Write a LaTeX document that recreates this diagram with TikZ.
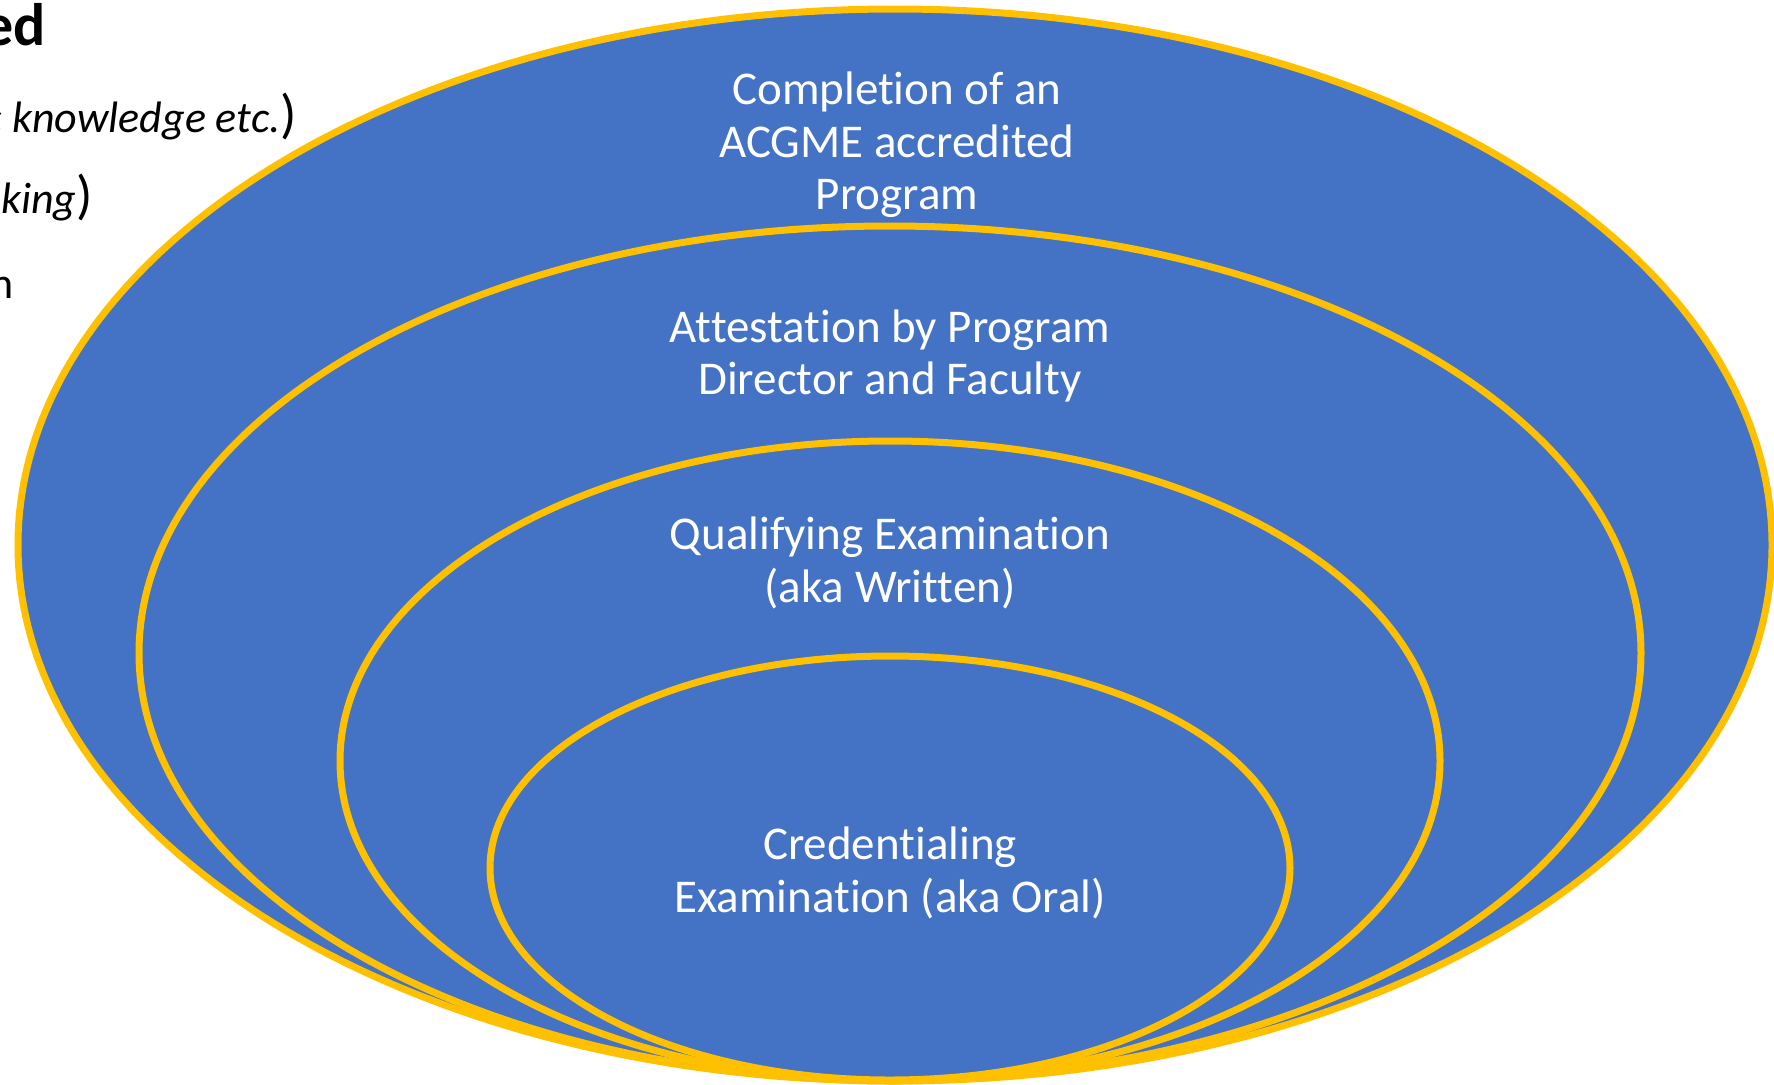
\documentclass[tikz,border=0pt]{standalone}
\usepackage{fontspec}
\setmainfont{Carlito}[Ligatures={NoCommon,NoContextual}, Contextuals=NoAlternate]
\definecolor{ovalblue}{HTML}{4472C4}
\definecolor{ovalgold}{HTML}{FFC000}
\tikzset{
  oval/.style={fill=ovalblue, draw=ovalgold, line width=7pt},
  ovaltext/.style={text=white, align=center, font=\fontsize{47}{52.6}\selectfont},
  sidetext/.style={anchor=base east, inner sep=0pt, font=\fontsize{44}{58}\selectfont}
}
\newcommand{\bigparen}{\fontsize{54}{58}\selectfont\upshape)}
\begin{document}
\begin{tikzpicture}[x=1pt, y=-1pt]
        % Page frame
        \useasboundingbox (0,0) rectangle (1774,1084);
        \clip (0,0) rectangle (1774,1084);

        % Cut-off slide text on the left
        \node[sidetext, font=\fontsize{60}{64}\selectfont\bfseries] (title) at (46,45) {ed};
        \node[sidetext] (line1) at (297,132) {\itshape c knowledge etc.\bigparen};
        \node[sidetext] (line2) at (93,213) {\itshape aking\bigparen};
        \node[sidetext] (line3) at (14,298) {n};

        % Nested ovals, outer first
        \draw[oval] (895,545) ellipse [x radius=877pt, y radius=536pt]; % Program oval
        \draw[oval] (890,653) ellipse [x radius=751pt, y radius=427pt]; % Attestation oval
        \draw[oval] (890,761) ellipse [x radius=550pt, y radius=320pt]; % Written oval
        \draw[oval] (890,868) ellipse [x radius=400pt, y radius=212pt]; % Oral oval

        % Oval labels
        \node[ovaltext] (program) at (897,145) {Completion of an\\ACGME accredited\\Program};
        \node[ovaltext] (attest) at (890,356) {Attestation by Program\\Director and Faculty};
        \node[ovaltext] (written) at (890,563) {Qualifying Examination\\(aka Written)};
        \node[ovaltext] (oral) at (890,873) {Credentialing\\Examination (aka Oral)};
      \end{tikzpicture}
\end{document}
